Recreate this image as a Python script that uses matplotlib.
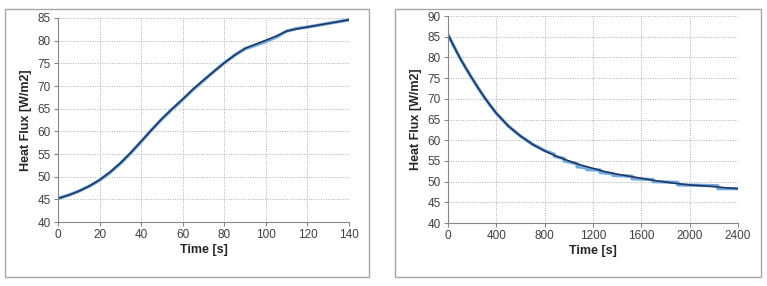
import matplotlib.pyplot as plt
from matplotlib.patches import Rectangle

plt.rcParams['font.family'] = ['Liberation Sans', 'DejaVu Sans']

# heating curve (left)
t_heat = [0, 5, 10, 15, 20, 25, 30, 35, 40, 45, 50, 55, 60, 65, 70, 75, 80,
          85, 90, 95, 100, 105, 110, 115, 120, 130, 140]
q_heat_meas = [45.2, 45.9, 46.8, 47.9, 49.2, 50.9, 52.9, 55.2, 57.7, 60.3, 62.7,
               64.9, 67.0, 69.2, 71.2, 73.2, 75.1, 76.8, 78.2, 79.0, 79.8, 80.8,
               82.1, 82.7, 83.0, 83.8, 84.6]
q_heat_model = [45.2, 45.9, 46.8, 47.9, 49.3, 51.0, 53.0, 55.3, 57.8, 60.3, 62.8,
                65.0, 67.1, 69.3, 71.3, 73.2, 75.1, 76.8, 78.3, 79.2, 80.1, 81.0,
                82.1, 82.6, 83.0, 83.8, 84.6]

# cooling curve (right)
t_cool = [0, 50, 100, 150, 200, 250, 300, 350, 400, 500, 600, 700, 800, 900,
          1000, 1100, 1200, 1300, 1400, 1500, 1600, 1700, 1800, 1900, 2000,
          2100, 2200, 2300, 2400]
q_cool_model = [85.5, 82.6, 79.8, 77.3, 74.9, 72.6, 70.4, 68.4, 66.5, 63.4, 61.0,
                59.0, 57.4, 56.1, 55.0, 54.0, 53.2, 52.4, 51.8, 51.3, 50.8, 50.3,
                49.9, 49.5, 49.2, 49.0, 48.8, 48.5, 48.3]
# measured data, logged with coarse resolution -> small stair steps
t_cool_meas = [0, 50, 100, 150, 200, 250, 300, 350, 400, 500, 600, 700, 800,
               880, 880, 960, 960, 1068, 1068, 1150, 1150, 1258, 1258, 1366,
               1366, 1523, 1523, 1697, 1697, 1903, 1903, 2234, 2234, 2400]
q_cool_meas = [85.5, 82.6, 79.8, 77.3, 74.9, 72.6, 70.4, 68.4, 66.5, 63.4, 61.0,
               59.0, 57.5, 56.6, 56.1, 55.6, 55.0, 54.3, 53.6, 53.3, 52.9, 52.8,
               52.2, 51.9, 51.5, 51.3, 50.7, 50.5, 50.0, 49.8, 49.2, 49.0,
               48.3, 48.3]

fig = plt.figure(figsize=(7.67, 2.86), dpi=100)

# outer frames around each chart
for x0, y0, w, h in [(5, 9, 364, 268), (395, 9, 366, 268)]:
    fig.patches.append(Rectangle((x0 / 767, y0 / 286), w / 767, h / 286,
                                 transform=fig.transFigure, fill=False,
                                 edgecolor='#a6a6a6', linewidth=1.0))

ax1 = fig.add_axes([58 / 767, 1 - 222 / 286, 291 / 767, 204 / 286])
ax2 = fig.add_axes([448 / 767, 1 - 223 / 286, 290 / 767, 207 / 286])

ax1.plot(t_heat, q_heat_meas, color='#6fa8dc', lw=2.4)
ax1.plot(t_heat, q_heat_model, color='#1f3864', lw=1.2)
ax1.set_xlim(0, 140)
ax1.set_ylim(40, 85)
ax1.set_xticks(range(0, 141, 20))
ax1.set_yticks(range(40, 86, 5))

ax2.plot(t_cool_meas, q_cool_meas, color='#6fa8dc', lw=2.4)
ax2.plot(t_cool, q_cool_model, color='#1f3864', lw=1.2)
ax2.set_xlim(0, 2400)
ax2.set_ylim(40, 90)
ax2.set_xticks(range(0, 2401, 400))
ax2.set_yticks(range(40, 91, 5))

for ax in (ax1, ax2):
    ax.grid(True, color='#b0b0b0', linestyle=(0, (1, 1.5)), linewidth=0.7)
    for s in ('top', 'right'):
        ax.spines[s].set_visible(False)
    for s in ('left', 'bottom'):
        ax.spines[s].set_color('#868686')
        ax.spines[s].set_linewidth(0.8)
    ax.tick_params(labelsize=8.5, colors='#868686', labelcolor='#404040',
                   length=3, width=0.8, direction='out', pad=2)
    ax.set_xlabel('Time [s]', fontsize=9, fontweight='bold', color='#262626',
                  labelpad=2)
    ax.set_ylabel('Heat Flux [W/m2]', fontsize=9, fontweight='bold',
                  color='#262626', labelpad=4)

fig.savefig('out.png', dpi=100)
